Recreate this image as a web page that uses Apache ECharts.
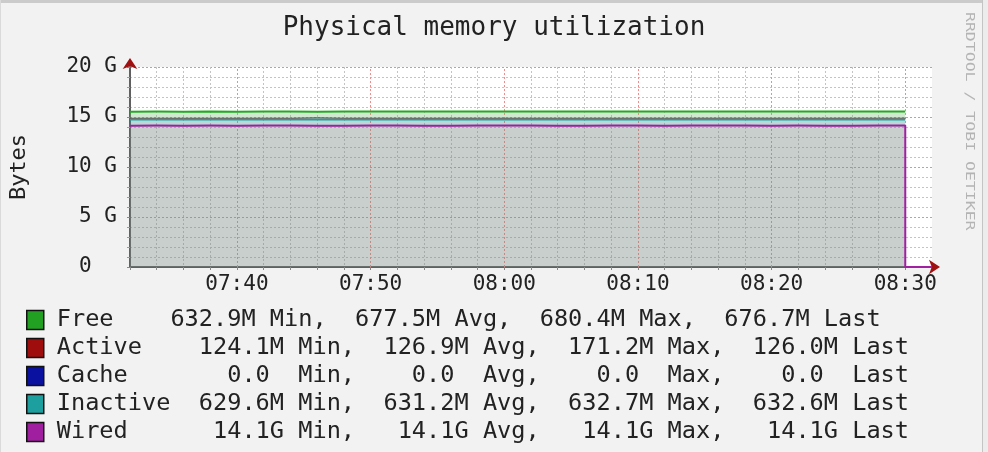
<!DOCTYPE html>
<html>
<head>
<meta charset="utf-8">
<script src="https://cdn.jsdelivr.net/npm/echarts@6/dist/echarts.min.js"></script>
<style>
  html, body { margin: 0; padding: 0; background: #f2f2f2; }
  #chart { width: 988px; height: 452px; }
</style>
</head>
<body>
<div id="chart"></div>
<script>
// ---- data (MiB, sampled every 2 minutes) ----
const times = ['07:32','07:34','07:36','07:38','07:40','07:42','07:44','07:46','07:48','07:50',
               '07:52','07:54','07:56','07:58','08:00','08:02','08:04','08:06','08:08','08:10',
               '08:12','08:14','08:16','08:18','08:20','08:22','08:24','08:26','08:28','08:30','08:32'];
const freeM = [679.8, 680.4, 679.6, 678.9, 678.2, 679.1, 679.5, 632.9, 680.0, 679.7,
               679.2, 678.8, 679.4, 679.9, 680.1, 679.6, 679.0, 678.7, 679.3, 679.8,
               679.5, 679.1, 678.6, 678.9, 679.4, 679.0, 678.4, 677.9, 677.2, 676.7, null];
const activeM = [124.8, 124.1, 124.9, 125.3, 125.6, 125.2, 125.0, 171.2, 124.6, 124.9,
                 125.3, 125.7, 125.1, 124.7, 124.5, 124.9, 125.4, 125.8, 125.2, 124.8,
                 125.0, 125.4, 125.9, 125.6, 125.1, 125.5, 126.1, 126.4, 125.8, 126.0, null];
const cacheM = [0, 0, 0, 0, 0, 0, 0, 0, 0, 0,
                0, 0, 0, 0, 0, 0, 0, 0, 0, 0,
                0, 0, 0, 0, 0, 0, 0, 0, 0, 0, null];
const inactiveM = [629.6, 629.8, 630.1, 630.3, 630.2, 630.6, 630.5, 630.8, 630.9, 631.0,
                   630.8, 631.1, 631.3, 631.2, 631.4, 631.3, 631.5, 631.6, 631.4, 631.7,
                   631.8, 631.6, 631.9, 632.0, 632.1, 632.3, 632.2, 632.5, 632.7, 632.6, null];
const wiredM = [14476, 14477, 14475, 14478, 14476, 14479, 14477, 14474, 14476, 14478,
                14477, 14475, 14476, 14478, 14479, 14477, 14476, 14475, 14477, 14478,
                14476, 14477, 14479, 14478, 14476, 14477, 14475, 14476, 14478, 14478, 0];
const xTickLabels = ['07:40', '07:50', '08:00', '08:10', '08:20', '08:30'];
const yTickLabels = ['0  ', '5 G', '10 G', '15 G', '20 G'];
const legendNames = ['Free', 'Active', 'Cache', 'Inactive', 'Wired'];
const legendRows = {
  'Free':     'Free    632.9M Min,  677.5M Avg,  680.4M Max,  676.7M Last',
  'Active':   'Active    124.1M Min,  126.9M Avg,  171.2M Max,  126.0M Last',
  'Cache':    'Cache       0.0  Min,    0.0  Avg,    0.0  Max,    0.0  Last',
  'Inactive': 'Inactive  629.6M Min,  631.2M Avg,  632.7M Max,  632.6M Last',
  'Wired':    'Wired      14.1G Min,   14.1G Avg,   14.1G Max,   14.1G Last'
};
const titleText = 'Physical memory utilization';
const yName = 'Bytes';
const watermark = 'RRDTOOL / TOBI OETIKER';

// ---- rendering ----
const MONO = '"DejaVu Sans Mono", "Liberation Mono", monospace';
const toG = arr => arr.map(v => v == null ? null : v / 1024);
const isMajor = (idx, val) => xTickLabels.indexOf(val) >= 0;
const MINOR = '#c4c4c4', MAJOR = '#f28c8c';

const chart = echarts.init(document.getElementById('chart'), null, { renderer: 'canvas' });

function mkSeries(name, data, lineColor, legendColor, areaColor, lineWidth, z) {
  return {
    name: name, type: 'line', stack: 'mem', data: toG(data),
    step: 'start', symbol: 'none', showSymbol: false, z: z,
    xAxisIndex: 0, yAxisIndex: 0,
    itemStyle: { color: legendColor },
    lineStyle: { color: lineColor, width: lineWidth },
    areaStyle: { color: areaColor, opacity: 1 },
    emphasis: { disabled: true },
    animation: false
  };
}

const cache = mkSeries('Cache', cacheM, '#0a10a0', '#0a10a0', 'rgba(0,0,0,0)', 1, 1);
cache.markLine = {
  silent: true, symbol: ['none', 'none'], z: 1, animation: false,
  label: { show: false },
  lineStyle: { color: MAJOR, width: 1, type: [2, 2] },
  emphasis: { disabled: true },
  data: xTickLabels.map(t => ({ xAxis: t }))
};

const option = {
  backgroundColor: '#f2f2f2',
  animation: false,
  title: {
    text: titleText, left: 'center', top: 10,
    textStyle: { fontFamily: MONO, fontSize: 26, fontWeight: 'normal', color: '#222' }
  },
  legend: {
    orient: 'vertical', left: 26, top: 306, padding: 0, itemGap: 0,
    itemWidth: 17, itemHeight: 19, icon: 'rect', selectedMode: false,
    data: legendNames,
    formatter: name => legendRows[name],
    itemStyle: { borderColor: '#111', borderWidth: 1.5 },
    textStyle: { fontFamily: MONO, fontSize: 23.6, color: '#222', lineHeight: 28, padding: [0, 0, 0, 8] }
  },
  grid: {
    left: 130, right: 56, top: 67, bottom: 185,
    show: true, backgroundColor: '#ffffff', borderWidth: 0
  },
  xAxis: [
    {
      type: 'category', data: times, boundaryGap: false, position: 'bottom',
      axisLine: { show: true, lineStyle: { color: '#606060', width: 2 } },
      axisTick: { show: true, interval: 0, length: 3, lineStyle: { color: '#888' } },
      axisLabel: { interval: isMajor, margin: 7, fontFamily: MONO, fontSize: 21, color: '#222' },
      splitLine: { show: true, interval: (i, v) => !isMajor(i, v) && i > 0 && i < times.length - 1,
                   lineStyle: { color: MINOR, width: 1, type: [2, 2] } }
    },
    {
      type: 'category', data: times, boundaryGap: false, position: 'bottom',
      axisLine: { show: true, symbol: ['none', 'arrow'], symbolSize: [11, 11], symbolOffset: [0, 8],
                  lineStyle: { color: '#a01010', width: 0 } },
      axisTick: { show: false },
      axisLabel: { show: false },
      splitLine: { show: false }
    }
  ],
  yAxis: [
    {
      type: 'value', min: 0, max: 20, interval: 5, name: yName,
      nameLocation: 'middle', nameRotate: 90, nameGap: 100,
      nameTextStyle: { fontFamily: MONO, fontSize: 22, color: '#222' },
      axisLine: { show: true, lineStyle: { color: '#606060', width: 2 } },
      axisTick: { show: true, length: 3, lineStyle: { color: '#888' } },
      minorTick: { show: true, splitNumber: 5, length: 3, lineStyle: { color: '#999' } },
      axisLabel: { margin: 13, fontFamily: MONO, fontSize: 21, color: '#222',
                   formatter: v => yTickLabels[Math.round(v / 5)] },
      splitLine: { show: true, lineStyle: { color: MAJOR, width: 1, type: [2, 2] } },
      minorSplitLine: { show: true, lineStyle: { color: MINOR, width: 1, type: [2, 2] } }
    },
    {
      type: 'value', min: 0, max: 20, position: 'left',
      axisLine: { show: true, symbol: ['none', 'arrow'], symbolSize: [11, 11], symbolOffset: [0, 9],
                  lineStyle: { color: '#a01010', width: 0 } },
      axisTick: { show: false }, axisLabel: { show: false }, splitLine: { show: false }
    }
  ],
  series: [
    mkSeries('Wired', wiredM, '#a020a0', '#a01ea0', 'rgba(120,135,128,0.40)', 2, 3),
    cache,
    mkSeries('Inactive', inactiveM, '#1ea0a0', '#1e9f9f', 'rgba(60,150,140,0.36)', 2, 3),
    mkSeries('Active', activeM, '#b00000', '#a00d0d', 'rgba(150,120,110,0.30)', 1, 2),
    mkSeries('Free', freeM, '#22aa22', '#22a022', 'rgba(110,185,110,0.32)', 2, 3)
  ],
  graphic: [
    { type: 'rect', left: 0, top: 0, shape: { width: 988, height: 3 }, style: { fill: '#cbcbcb' }, silent: true },
    { type: 'rect', left: 982, top: 0, shape: { width: 1, height: 452 }, style: { fill: '#c4c4c4' }, silent: true },
    { type: 'rect', left: 983, top: 0, shape: { width: 5, height: 452 }, style: { fill: '#ececec' }, silent: true },
    { type: 'rect', left: 0, top: 0, shape: { width: 1, height: 452 }, style: { fill: '#dadada' }, silent: true },
    {
      type: 'text', x: 969, y: 12, rotation: -Math.PI / 2, scaleX: 1.32, silent: true,
      style: { text: watermark, fill: '#b4b4b4', font: '12.5px ' + MONO, textAlign: 'left', textVerticalAlign: 'middle' }
    }
  ]
};
chart.setOption(option);
</script>
</body>
</html>
